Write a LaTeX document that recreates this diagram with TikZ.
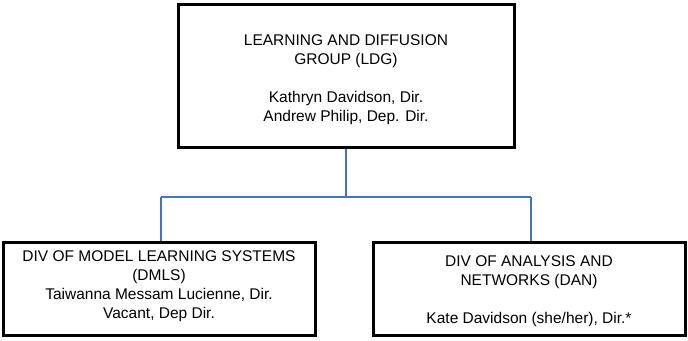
\documentclass[tikz,border=0pt]{standalone}
\usepackage{fontspec}
\setmainfont{Liberation Sans}
\definecolor{conn}{RGB}{68,114,196}
\begin{document}
\begin{tikzpicture}[x=1pt,y=-1pt,
  box/.style={draw=black,line width=3pt,inner sep=0pt},
  txt/.style={align=center,font=\fontsize{15.5}{19}\selectfont,inner sep=0pt},
  link/.style={draw=conn,line width=2.5pt},
  bar/.style={draw=conn,line width=1.5pt}]
\useasboundingbox (0,0) rectangle (688,340);
\node[box,minimum width=336pt,minimum height=143pt] (top) at (346,75.5) {};
\node[box,minimum width=312pt,minimum height=93pt] (dmls) at (159,289) {};
\node[box,minimum width=312pt,minimum height=93pt] (dan) at (529,289) {};
\node[txt] (toptext) at (346,79.5) {LEARNING AND DIFFUSION\\GROUP (LDG)\\[19pt]Kathryn Davidson, Dir.\\Andrew Philip, Dep. Dir.};
\node[txt] (dmlstext) at (159,286.5) {DIV OF MODEL LEARNING SYSTEMS\\(DMLS)\\Taiwanna Messam Lucienne, Dir.\\Vacant, Dep Dir.};
\node[txt] (dantext) at (529,291.5) {DIV OF ANALYSIS AND\\NETWORKS (DAN)\\[19pt]Kate Davidson (she/her), Dir.*};
\coordinate (j) at (346,197);
\coordinate (jl) at (161,197);
\coordinate (jr) at (531,197);
\draw[link] (top.south) -- (j);
\draw[bar] (jl) -- (jr);
\draw[link] (jl) -- (jl |- dmls.north);
\draw[link] (jr) -- (jr |- dan.north);
\end{tikzpicture}
\end{document}
